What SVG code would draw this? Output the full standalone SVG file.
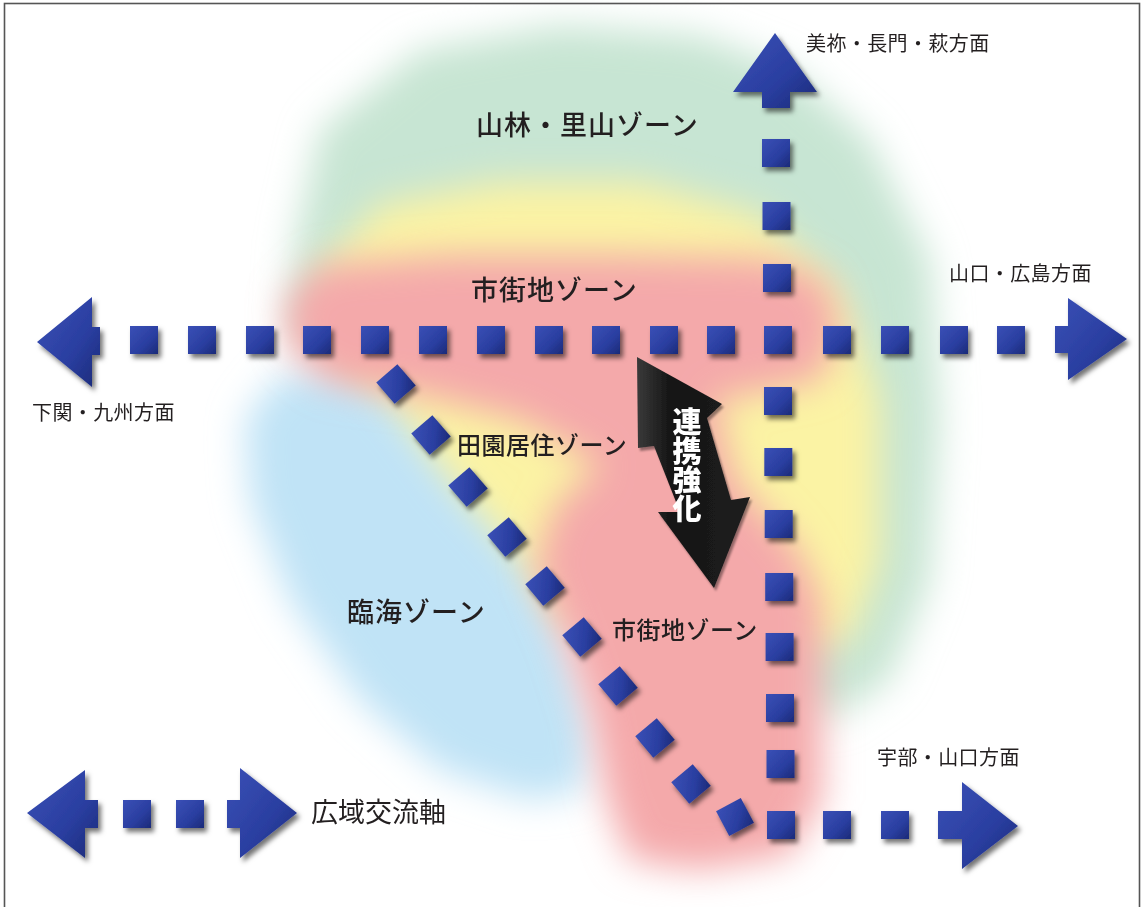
<svg xmlns="http://www.w3.org/2000/svg" xmlns:xlink="http://www.w3.org/1999/xlink" width="1144" height="907" viewBox="0 0 1144 907">
<style>
.lbl{font-family:"Noto Sans CJK JP","Noto Sans CJK SC",sans-serif;fill:#231f20}
.dir{font-size:20px;font-weight:400;letter-spacing:0.4px}
.zone{font-size:27px;font-weight:500;letter-spacing:1px}
.zone2{font-size:24px;font-weight:500;letter-spacing:0.5px}
.blue{fill:url(#blueGrad)}
.vt{font-family:"Noto Sans CJK JP",sans-serif;font-size:29px;font-weight:900;fill:#ffffff;writing-mode:vertical-rl}
</style>
<defs>
<filter id="blur" x="-30%" y="-30%" width="160%" height="160%"><feGaussianBlur stdDeviation="18"/></filter>
<filter id="shadow" x="-20%" y="-20%" width="140%" height="140%"><feDropShadow dx="3" dy="4" stdDeviation="2.5" flood-color="#000" flood-opacity="0.55"/></filter>
<filter id="soft" x="-20%" y="-20%" width="140%" height="140%"><feGaussianBlur in="SourceAlpha" stdDeviation="1.2" result="b"/><feOffset dx="2" dy="3" in="b" result="o"/><feFlood flood-color="#000" flood-opacity="0.4"/><feComposite in2="o" operator="in" result="s"/><feMerge><feMergeNode in="s"/><feMergeNode in="SourceGraphic"/></feMerge></filter>
<linearGradient id="blueGrad" x1="0" y1="0" x2="1" y2="1"><stop offset="0" stop-color="#3a50b6"/><stop offset="0.6" stop-color="#2a3ea0"/><stop offset="1" stop-color="#1b2a78"/></linearGradient>
<linearGradient id="blackGrad" x1="0" y1="0" x2="1" y2="0"><stop offset="0" stop-color="#3a3a3a"/><stop offset="0.3" stop-color="#151515"/><stop offset="1" stop-color="#1e1e1e"/></linearGradient>
<rect id="sq" class="blue" x="-14" y="-14" width="28" height="28"/>
</defs>

<rect width="1144" height="907" fill="#ffffff"/>

<g id="zones">
<path id="zone-forest" filter="url(#blur)" fill="#c7e5d3" d="M295,240 L320,130 L420,50 L560,25 L700,35 L790,70 L870,140 L930,260 L940,420 L930,580 L890,680 L830,720 L790,690 L760,600 L600,480 L400,420 L290,330 Z"/>
<path id="zone-rural" filter="url(#blur)" fill="#fbf3a4" d="M320,270 L380,205 L500,182 L640,182 L760,215 L840,290 L880,400 L880,560 L850,640 L800,650 L700,560 L620,560 L560,640 L500,600 L420,500 L350,400 Z"/>
<path id="zone-coast" filter="url(#blur)" fill="#c0e3f6" d="M245,420 L280,375 L340,370 L390,400 L450,480 L520,560 L565,640 L590,730 L585,790 L530,800 L440,770 L360,700 L290,600 L250,500 Z"/>
<path id="zone-urban" filter="url(#blur)" fill="#f4a9aa" d="M285,300 L320,265 L450,255 L620,255 L770,258 L825,280 L840,330 L820,380 L760,392 L715,400 L735,480 L795,545 L822,600 L822,800 L790,855 L700,870 L630,860 L606,800 L592,720 L565,640 L535,565 L555,505 L600,465 L520,420 L420,395 L330,382 L290,350 Z"/>
</g>

<rect id="frame" x="4.5" y="3.5" width="1135" height="915" fill="none" stroke="#555555" stroke-width="1.6"/>

<g id="connectors" filter="url(#shadow)">
<g id="axis-east-west">
<path class="blue" d="M100,327 L92,327 L92,297 L37,342 L92,387 L92,355 L100,355 Z"/>
<use xlink:href="#sq" href="#sq" x="144" y="340"/>
<use xlink:href="#sq" href="#sq" x="202" y="340"/>
<use xlink:href="#sq" href="#sq" x="260" y="340"/>
<use xlink:href="#sq" href="#sq" x="317" y="340"/>
<use xlink:href="#sq" href="#sq" x="375" y="340"/>
<use xlink:href="#sq" href="#sq" x="433" y="340"/>
<use xlink:href="#sq" href="#sq" x="491" y="340"/>
<use xlink:href="#sq" href="#sq" x="549" y="340"/>
<use xlink:href="#sq" href="#sq" x="606" y="340"/>
<use xlink:href="#sq" href="#sq" x="664" y="340"/>
<use xlink:href="#sq" href="#sq" x="721" y="340"/>
<use xlink:href="#sq" href="#sq" x="778" y="340"/>
<use xlink:href="#sq" href="#sq" x="837" y="340"/>
<use xlink:href="#sq" href="#sq" x="895" y="340"/>
<use xlink:href="#sq" href="#sq" x="954" y="340"/>
<use xlink:href="#sq" href="#sq" x="1011" y="340"/>
<path class="blue" d="M1055,326 L1068,326 L1068,298 L1127,339 L1068,380 L1068,353 L1055,353 Z"/>
</g>
<g id="axis-north-south">
<path class="blue" d="M762,108 L762,92 L733,92 L775,33 L817,92 L790,92 L790,108 Z"/>
<use xlink:href="#sq" href="#sq" x="776" y="153"/>
<use xlink:href="#sq" href="#sq" x="776.5" y="216"/>
<use xlink:href="#sq" href="#sq" x="777" y="278"/>
<use xlink:href="#sq" href="#sq" x="778" y="401"/>
<use xlink:href="#sq" href="#sq" x="778.3" y="462"/>
<use xlink:href="#sq" href="#sq" x="778.7" y="524"/>
<use xlink:href="#sq" href="#sq" x="779.2" y="587"/>
<use xlink:href="#sq" href="#sq" x="779.6" y="647"/>
<use xlink:href="#sq" href="#sq" x="780" y="708"/>
<use xlink:href="#sq" href="#sq" x="780.5" y="764"/>
<use xlink:href="#sq" href="#sq" x="781" y="825"/>
</g>
<g id="axis-diagonal">
<use xlink:href="#sq" href="#sq" transform="translate(396,384) rotate(-41)"/>
<use xlink:href="#sq" href="#sq" transform="translate(431,435) rotate(-41)"/>
<use xlink:href="#sq" href="#sq" transform="translate(468,487) rotate(-41)"/>
<use xlink:href="#sq" href="#sq" transform="translate(507,537) rotate(-40)"/>
<use xlink:href="#sq" href="#sq" transform="translate(545,586) rotate(-40)"/>
<use xlink:href="#sq" href="#sq" transform="translate(582,637) rotate(-40)"/>
<use xlink:href="#sq" href="#sq" transform="translate(618,686) rotate(-40)"/>
<use xlink:href="#sq" href="#sq" transform="translate(655,738) rotate(-40)"/>
<use xlink:href="#sq" href="#sq" transform="translate(691,784) rotate(-40)"/>
<use xlink:href="#sq" href="#sq" transform="translate(735,817) rotate(-28)"/>
</g>
<g id="axis-east-south">
<use xlink:href="#sq" href="#sq" x="837" y="825"/>
<use xlink:href="#sq" href="#sq" x="895" y="825"/>
<path class="blue" d="M938,811 L962,811 L962,782 L1018,826 L962,869 L962,839 L938,839 Z"/>
</g>
<g id="legend-axis">
<path class="blue" d="M98,800 L85,800 L85,770 L27,813 L85,858 L85,828 L98,828 Z"/>
<use xlink:href="#sq" href="#sq" x="137" y="814"/>
<use xlink:href="#sq" href="#sq" x="190" y="814"/>
<path class="blue" d="M227,800 L240,800 L240,768 L297,813 L240,858 L240,828 L227,828 Z"/>
</g>
</g>

<g id="link-arrow">
<path filter="url(#soft)" fill="url(#blackGrad)" d="M637,357 L722,404 L707,418 L731,500 L750,497 L714,588 L658,512 L680,512 L654,446 L638,448 Z"/>
<text class="vt" x="687" y="407">連携強化</text>
</g>

<g id="labels">
<g id="lbl-forest"><text class="lbl zone" x="476" y="135">山林・里山ゾーン</text></g>
<g id="lbl-urban1"><text class="lbl zone" x="471" y="300">市街地ゾーン</text></g>
<g id="lbl-rural"><text class="lbl zone2" x="457" y="454">田園居住ゾーン</text></g>
<g id="lbl-coast"><text class="lbl zone" x="347" y="622">臨海ゾーン</text></g>
<g id="lbl-urban2"><text class="lbl zone2" x="612" y="639">市街地ゾーン</text></g>
<g id="lbl-north"><text class="lbl dir" x="806" y="51">美祢・長門・萩方面</text></g>
<g id="lbl-east"><text class="lbl dir" x="949" y="281">山口・広島方面</text></g>
<g id="lbl-west"><text class="lbl dir" x="32" y="420">下関・九州方面</text></g>
<g id="lbl-southeast"><text class="lbl dir" x="877" y="765">宇部・山口方面</text></g>
<g id="lbl-legend"><text class="lbl" x="311" y="822" style="font-size:27px;font-weight:400">広域交流軸</text></g>
</g>
</svg>
